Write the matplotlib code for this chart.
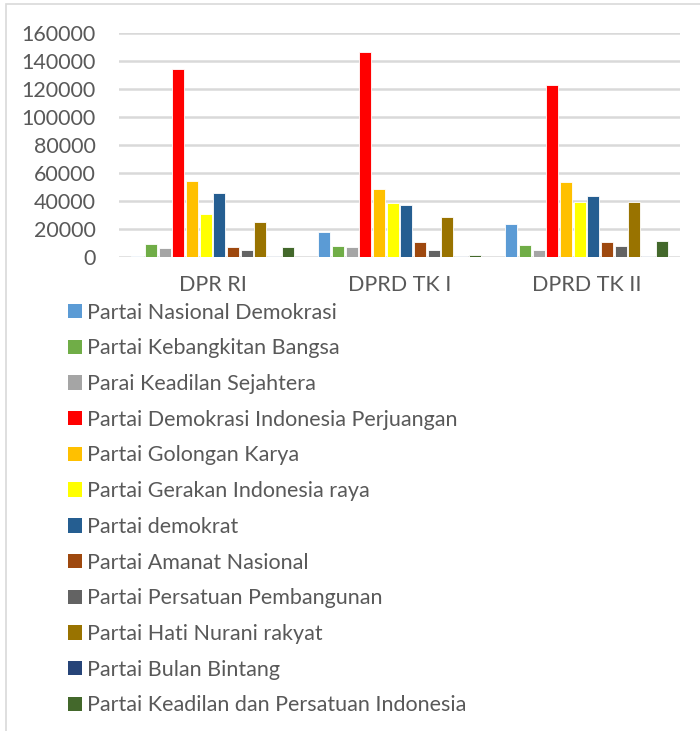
import numpy as np
import matplotlib
matplotlib.use("Agg")
import matplotlib.pyplot as plt
from matplotlib.patches import Rectangle, Patch

plt.rcParams['font.family'] = ['Lato', 'DejaVu Sans']

## Data
categories = ["DPR RI", "DPRD TK I", "DPRD TK II"]

parties = [
    "Partai Nasional Demokrasi",
    "Partai Kebangkitan Bangsa",
    "Parai Keadilan Sejahtera",
    "Partai Demokrasi Indonesia Perjuangan",
    "Partai Golongan Karya",
    "Partai Gerakan Indonesia raya",
    "Partai demokrat",
    "Partai Amanat Nasional",
    "Partai Persatuan Pembangunan",
    "Partai Hati Nurani rakyat",
    "Partai Bulan Bintang",
    "Partai Keadilan dan Persatuan Indonesia",
]

# votes per party, one value per category (DPR RI, DPRD TK I, DPRD TK II)
pni = [1000, 17900, 23600]
pkb = [9500, 8100, 8400]
pks = [6200, 6900, 5300]
pdip = [134400, 146600, 122700]
golkar = [54200, 48500, 53500]
gerindra = [31000, 38400, 39600]
demokrat = [45600, 37000, 43500]
pan = [7400, 10700, 10700]
ppp = [4800, 5000, 8100]
hanura = [25300, 28700, 39400]
pbb = [700, 700, 700]
pkpi = [7400, 1200, 11200]

series = [pni, pkb, pks, pdip, golkar, gerindra, demokrat, pan, ppp, hanura, pbb, pkpi]

colors = ["#5B9BD5", "#70AD47", "#A5A5A5", "#FF0000", "#FFC000", "#FFFF00",
          "#255E91", "#9E480E", "#636363", "#997300", "#264478", "#43682B"]

TXT = "#595959"
GRID = "#D9D9D9"

fig = plt.figure(figsize=(7.0, 7.31), dpi=100)
W, H = 700, 731
ax = fig.add_axes([119/W, 1-257/H, (680-119)/W, (257-33)/H])

# outer chart border
fig.patches.append(Rectangle((6/W, -0.1), 1.2, 1-4/H+0.1, transform=fig.transFigure,
                             fill=False, edgecolor=GRID, lw=1.2))

x = np.arange(len(categories))
n = len(series)
slot = 0.877 / n
for i, (vals, c) in enumerate(zip(series, colors)):
    ax.bar(x - 0.877/2 + slot*(i+0.5), vals, width=slot*0.86, color=c,
           edgecolor="white", linewidth=0.6, zorder=3)

ax.set_xlim(-0.5, 2.5)
ax.set_ylim(0, 160000)
ax.set_yticks(np.arange(0, 160001, 20000))
ax.yaxis.grid(True, color=GRID, lw=1.8, zorder=0)
ax.set_axisbelow(True)
for s in ax.spines.values():
    s.set_visible(False)
ax.set_xticks(x)
ax.set_xticklabels(categories)
ax.tick_params(axis='both', length=0, labelcolor=TXT, labelsize=15.5)
ax.tick_params(axis='x', pad=13)
ax.tick_params(axis='y', pad=17)

handles = [Patch(facecolor=c, edgecolor='none') for c in colors]
fig.legend(handles, parties, loc='upper left', bbox_to_anchor=(59/W, 1-294/H),
           frameon=False, fontsize=15.5, labelcolor=TXT,
           handlelength=0.65, handleheight=0.65, handletextpad=0.25,
           labelspacing=0.73, borderaxespad=0)

fig.savefig("out.png", dpi=100)
